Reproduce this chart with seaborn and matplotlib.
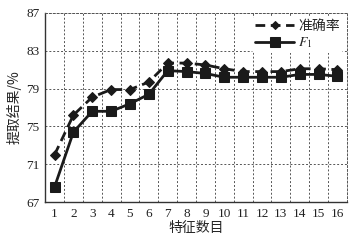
import numpy as np
import pandas as pd
import seaborn as sns
import matplotlib.pyplot as plt

# data
n_feat = list(range(1, 17))
acc = [72.0, 76.2, 78.1, 78.9, 78.9, 79.7, 81.7, 81.7, 81.5, 81.1, 80.8, 80.8, 80.8, 81.1, 81.1, 81.0]
f1 = [68.6, 74.4, 76.6, 76.6, 77.4, 78.4, 80.9, 80.8, 80.6, 80.2, 80.2, 80.2, 80.2, 80.5, 80.5, 80.3]
yticks = [67, 71, 75, 79, 83, 87]

sns.set_style('white')
plt.rcParams['font.family'] = ['Liberation Serif', 'Noto Sans CJK SC']
plt.rcParams['mathtext.fontset'] = 'stix'

df = pd.DataFrame({'n': n_feat * 2, 'v': acc + f1,
                   's': ['准确率'] * 16 + ['$F_1$'] * 16})

fig = plt.figure(figsize=(3.58, 2.40), dpi=100)
ax = fig.add_axes([0.126, 0.158, 0.843, 0.788])

sns.lineplot(data=df, x='n', y='v', hue='s', style='s',
             palette=['#1a1a1a', '#1a1a1a'], dashes=[(3.5, 2), ''],
             markers=['D', 's'], markersize=6, linewidth=2.0,
             markeredgecolor='#1a1a1a', ax=ax)
# squares a bit bigger than the diamonds
ax.lines[1].set_markersize(7.5)
ax.lines[0].set_markersize(5)

ax.set_xlim(0.5, 16.5)
ax.set_ylim(67, 87)
ax.set_xticks(n_feat)
ax.set_yticks(yticks)
ax.set_xticks(np.arange(1.5, 16.5, 1), minor=True)
ax.grid(True, which='minor', axis='x', ls=(0, (2, 2)), color='#555555', lw=0.7)
ax.grid(True, which='major', axis='y', ls=(0, (2, 2)), color='#555555', lw=0.7)
ax.grid(False, which='major', axis='x')
for s in ['top', 'right']:
    ax.spines[s].set_linestyle((0, (2, 2)))
    ax.spines[s].set_color('#555555')
    ax.spines[s].set_linewidth(0.7)
for s in ['left', 'bottom']:
    ax.spines[s].set_color('#333333')
    ax.spines[s].set_linewidth(1.0)
ax.tick_params(axis='both', labelsize=9.5, length=0, pad=4, colors='#222222')
ax.tick_params(axis='x', which='minor', length=2, direction='in')

ax.set_xlabel('特征数目', fontsize=10, family=['Noto Sans CJK SC'], labelpad=1)
ax.set_ylabel('提取结果/%', fontsize=10, family=['Noto Sans CJK SC', 'DejaVu Sans'], labelpad=3)

leg = ax.legend(loc='upper right', fontsize=10, frameon=True, handlelength=2.8,
                borderaxespad=0.3, labelspacing=0.2, handletextpad=0.3,
                borderpad=0.2)
leg.get_frame().set_facecolor('white')
leg.get_frame().set_edgecolor('none')
leg.get_frame().set_alpha(1)
for h, ms in zip(leg.get_lines(), [4.5, 6.5]):
    h.set_markersize(ms)
    h.set_linewidth(2.0)

fig.savefig('out.png', dpi=100, facecolor='white')
